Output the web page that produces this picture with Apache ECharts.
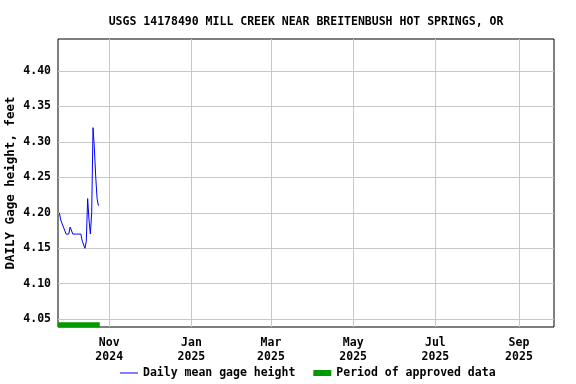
<!DOCTYPE html>
<html>
<head>
<meta charset="utf-8">
<script src="https://cdn.jsdelivr.net/npm/echarts@6/dist/echarts.min.js"></script>
<style>html,body{margin:0;padding:0;background:#fff}#c{width:576px;height:384px}</style>
</head>
<body>
<div id="c"></div>
<script>
var titleText = 'USGS 14178490 MILL CREEK NEAR BREITENBUSH HOT SPRINGS, OR';
var yAxisName = 'DAILY Gage height, feet';
var dates = ['2024-09-25','2024-09-26','2024-09-27','2024-09-28','2024-09-29','2024-09-30',
  '2024-10-01','2024-10-02','2024-10-03','2024-10-04','2024-10-05','2024-10-06','2024-10-07',
  '2024-10-08','2024-10-09','2024-10-10','2024-10-11','2024-10-12','2024-10-13','2024-10-14',
  '2024-10-15','2024-10-16','2024-10-17','2024-10-18','2024-10-19','2024-10-20','2024-10-21',
  '2024-10-22','2024-10-23','2024-10-24'];
var gageHeight = [4.20,4.19,4.19,4.18,4.18,4.17,4.17,4.17,4.18,4.18,4.17,4.17,4.17,4.17,4.17,
  4.17,4.17,4.16,4.16,4.15,4.16,4.22,4.19,4.17,4.20,4.32,4.29,4.25,4.22,4.21];
var approvedStart = '2024-09-24';
var approvedEnd = '2024-10-25';
var approvedLevel = 4.042;
var xTickDates = ['2024-11-01','2025-01-01','2025-03-01','2025-05-01','2025-07-01','2025-09-01'];
var yTicks = [4.05,4.10,4.15,4.20,4.25,4.30,4.35,4.40];
var xMin = '2024-09-24', xMax = '2025-09-27';
var yMin = 4.039, yMax = 4.445;

function ts(s){var p=s.split('-');return Date.UTC(+p[0],+p[1]-1,+p[2]);}
var months=['Jan','Feb','Mar','Apr','May','Jun','Jul','Aug','Sep','Oct','Nov','Dec'];
var font = '"DejaVu Sans Mono", monospace';

var chart = echarts.init(document.getElementById('c'), null, {renderer:'canvas'});
chart.setOption({
  animation:false,
  backgroundColor:'#fff',
  title:{text:titleText,left:301,textAlign:'center',top:11,
    textStyle:{fontFamily:font,fontWeight:'bold',fontSize:11.5,color:'#000'}},
  grid:{left:58,right:22,top:39,bottom:57,outerBoundsMode:'none',containLabel:false,
    show:true,borderColor:'#000',borderWidth:1,backgroundColor:'transparent'},
  xAxis:{type:'value',min:ts(xMin),max:ts(xMax),
    axisLine:{show:false},
    axisTick:{show:false,customValues:xTickDates.map(ts)},
    splitLine:{show:true,lineStyle:{color:'#c8c8c8',width:1}},
    axisLabel:{customValues:xTickDates.map(ts),margin:9,lineHeight:14,
      fontFamily:font,fontWeight:'bold',fontSize:11.5,color:'#000',
      formatter:function(v){var d=new Date(v);return months[d.getUTCMonth()]+'\n'+d.getUTCFullYear();}}},
  yAxis:{type:'value',min:yMin,max:yMax,
    name:yAxisName,nameLocation:'middle',nameGap:41,nameRotate:90,nameMoveOverlap:false,
    nameTextStyle:{fontFamily:font,fontWeight:'bold',fontSize:12.5,color:'#000'},
    axisLine:{show:false},
    axisTick:{show:false,customValues:yTicks},
    splitLine:{show:true,lineStyle:{color:'#c8c8c8',width:1}},
    axisLabel:{customValues:yTicks,margin:7,fontFamily:font,fontWeight:'bold',fontSize:11.5,color:'#000',
      formatter:function(v){return v.toFixed(2);}}},
  legend:{bottom:0,left:115,itemGap:18,itemWidth:18,itemHeight:6,
    textStyle:{fontFamily:font,fontWeight:'bold',fontSize:11.5,color:'#000'},
    data:[{name:'Daily mean gage height',icon:'path://M0,5L18,5L18,6L0,6Z'},
          {name:'Period of approved data',icon:'rect'}]},
  series:[
    {name:'Daily mean gage height',type:'line',symbol:'none',color:'#0000ff',
     lineStyle:{color:'#0000ff',width:1},
     data:dates.map(function(d,i){return [ts(d),gageHeight[i]];})},
    {name:'Period of approved data',type:'line',symbol:'none',color:'#009900',
     lineStyle:{color:'#009900',width:5},
     data:[[ts(approvedStart),approvedLevel],[ts(approvedEnd),approvedLevel]]}
  ]
});
</script>
</body>
</html>
